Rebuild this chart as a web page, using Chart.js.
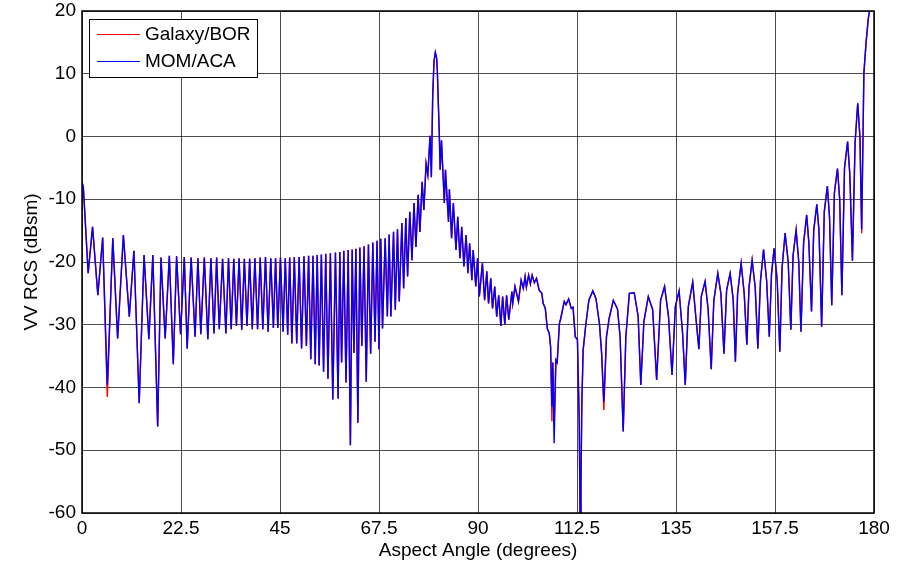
<!DOCTYPE html>
<html>
<head>
<meta charset="utf-8">
<script src="https://cdn.jsdelivr.net/npm/chart.js@4.4.1/dist/chart.umd.min.js"></script>
<style>
  html, body { margin: 0; padding: 0; background: #fff; }
  #wrap { width: 904px; height: 563px; }
</style>
</head>
<body>
<div id="wrap"><canvas id="rcsChart" width="904" height="563"></canvas></div>
<script>
// aspect angle (deg) of each read point
const angles = [
  0.0, 0.3, 0.7, 1.4, 2.4, 3.6, 4.7, 5.75, 7.0, 8.1, 9.4, 10.75, 11.8, 13.0, 14.1, 15.2, 16.1, 17.2, 17.95, 18.9,
  19.85, 20.75, 21.5, 22.4, 23.25, 23.9, 24.8, 25.7, 26.35, 27.0, 27.8, 28.6, 29.3, 30.0, 30.6, 31.2, 31.95, 32.7, 33.3, 33.9,
  34.5, 35.1, 35.7, 36.3, 36.9, 37.5, 38.1, 38.7, 39.3, 39.9, 40.5, 41.1, 41.7, 42.3, 42.9, 43.5, 44.0, 44.5, 45.1, 45.7,
  46.2, 46.75, 47.2, 47.7, 48.25, 48.8, 49.35, 49.9, 50.45, 51.0, 51.5, 52.0, 52.5, 53.0, 53.45, 53.9, 54.4, 54.9, 55.4, 55.9,
  56.45, 57.0, 57.6, 58.2, 58.6, 59.0, 59.5, 60.0, 60.5, 61.0, 61.4, 61.8, 62.25, 62.7, 63.15, 63.6, 64.1, 64.6, 65.1, 65.6,
  66.1, 66.6, 67.05, 67.5, 67.9, 68.3, 68.9, 69.4, 69.8, 70.2, 70.8, 71.2, 71.7, 72.1, 72.7, 73.1, 73.6, 74.0, 74.5, 75.0,
  75.45, 75.9, 76.4, 76.8, 77.3, 77.7, 78.2, 78.6, 79.1, 79.4, 79.7, 80.0, 80.3, 80.6, 80.75, 81.2, 81.4, 81.7, 82.35, 82.6,
  83.3, 83.5, 84.0, 84.4, 85.0, 85.4, 85.9, 86.3, 86.8, 87.3, 87.7, 88.1, 88.6, 88.9, 89.5, 89.9, 90.3, 91.0, 91.5, 92.0,
  92.4, 92.9, 93.3, 93.8, 94.25, 94.7, 95.2, 95.6, 96.1, 96.5, 97.0, 97.7, 97.9, 98.4, 99.2, 99.8, 100.3, 100.7, 101.0, 101.5,
  101.9, 102.3, 102.8, 103.3, 103.9, 104.5, 104.8, 105.0, 105.3, 105.75, 106.2, 106.5, 106.8, 107.0, 107.3, 107.7, 108.0, 108.5, 108.8, 109.6,
  110.0, 110.6, 111.2, 111.6, 112.1, 112.6, 113.0, 113.2, 113.4, 113.6, 113.9, 114.5, 115.2, 116.1, 116.8, 117.6, 118.1, 118.6, 119.2, 119.8,
  120.75, 121.7, 122.3, 123.0, 123.6, 124.4, 125.5, 126.1, 126.4, 127.0, 127.7, 128.7, 129.7, 130.6, 131.5, 132.4, 133.3, 134.1, 134.85, 135.7,
  136.5, 137.1, 137.8, 138.8, 139.5, 140.2, 140.75, 141.6, 142.3, 143.0, 143.6, 144.5, 145.2, 145.9, 146.5, 147.3, 148.0, 148.5, 149.0, 149.8,
  150.5, 151.1, 151.6, 152.3, 153.0, 153.6, 154.2, 154.9, 155.6, 156.2, 156.7, 157.3, 158.0, 158.6, 159.1, 159.8, 160.5, 161.1, 161.6, 162.3,
  162.9, 163.4, 164.0, 164.7, 165.2, 165.8, 166.3, 167.0, 167.5, 168.1, 168.7, 169.4, 169.9, 170.4, 171.0, 171.7, 172.2, 172.7, 173.3, 174.0,
  174.5, 175.1, 175.7, 176.3, 176.8, 177.2, 177.7, 178.2, 178.7, 179.1, 179.4
];

// MOM/ACA (blue), dBsm
const momAca = [
  -7.3, -8.0, -13.0, -21.8, -14.4, -25.3, -16.1, -39.6, -16.2, -32.2, -15.7, -28.7, -18.2, -42.5, -18.9, -32.3, -18.9, -46.2, -19.3, -32.2,
  -19.0, -36.3, -19.1, -31.5, -19.2, -33.8, -19.3, -31.9, -19.4, -31.5, -19.3, -32.3, -19.4, -31.4, -19.3, -30.7, -19.5, -31.4, -19.4, -30.7,
  -19.5, -30.2, -19.4, -30.8, -19.5, -30.2, -19.5, -30.7, -19.4, -30.7, -19.3, -30.7, -19.2, -31.1, -19.4, -30.5, -19.4, -30.5, -19.3, -31.1,
  -19.4, -31.6, -19.3, -33.0, -19.2, -33.0, -19.2, -33.8, -19.1, -33.4, -19.0, -35.5, -19.0, -36.3, -18.9, -36.5, -18.8, -37.5, -18.7, -38.6,
  -18.6, -41.9, -18.5, -41.8, -18.4, -36.0, -18.2, -39.2, -18.1, -49.2, -18.0, -34.5, -17.9, -45.6, -17.7, -33.4, -17.5, -39.1, -17.2, -34.6,
  -16.9, -32.7, -16.6, -33.9, -16.3, -30.6, -16.2, -28.7, -15.6, -28.7, -15.2, -27.6, -14.8, -26.3, -13.8, -24.2, -13.0, -22.3, -12.0, -19.7,
  -10.6, -17.6, -9.3, -15.2, -7.2, -11.7, -4.3, -6.1, 0.1, -6.5, 6.3, 12.0, 13.4, 12.5, 10.6, 0.5, -5.3, -0.6, -10.6, -5.3,
  -13.6, -8.4, -16.2, -10.6, -18.1, -12.8, -19.4, -14.4, -20.7, -15.7, -21.8, -17.0, -22.9, -18.1, -23.9, -19.4, -25.5, -20.2, -26.1, -21.5,
  -26.6, -22.6, -27.4, -23.9, -28.7, -25.3, -30.2, -25.5, -30.0, -25.3, -29.2, -24.7, -26.6, -23.9, -26.3, -22.9, -24.2, -22.3, -24.0, -22.1,
  -23.5, -22.1, -23.3, -22.6, -24.5, -25.0, -26.6, -26.9, -27.4, -30.6, -31.4, -33.5, -43.1, -36.0, -48.9, -35.6, -36.0, -29.8, -29.0, -26.3,
  -26.8, -25.9, -27.4, -27.2, -31.9, -32.4, -45.0, -61.0, -55.0, -42.5, -34.0, -30.0, -26.1, -24.6, -25.8, -29.8, -34.6, -42.3, -31.9, -29.0,
  -26.1, -27.5, -31.9, -47.0, -31.9, -25.0, -24.9, -27.4, -28.7, -39.6, -29.5, -25.5, -27.6, -38.8, -26.1, -23.9, -28.7, -38.0, -27.1, -24.6,
  -31.4, -39.6, -27.1, -23.2, -28.7, -33.9, -25.5, -23.1, -27.5, -37.1, -26.1, -21.8, -25.0, -34.6, -24.5, -21.8, -26.0, -35.9, -25.0, -20.2,
  -25.0, -33.2, -24.0, -19.7, -24.0, -33.8, -23.0, -18.0, -23.0, -31.9, -22.0, -17.8, -23.0, -34.3, -21.0, -15.4, -20.0, -30.8, -19.0, -14.9,
  -20.0, -31.1, -17.0, -12.5, -17.0, -27.9, -15.0, -10.8, -15.0, -30.3, -12.0, -7.9, -13.0, -26.9, -9.0, -5.1, -10.0, -25.3, -5.0, -0.8,
  -6.0, -19.8, -1.0, 5.3, 0.0, -14.8, 10.1, 15.0, 18.8, 20.5, 23.0
];

// Galaxy/BOR (red) follows MOM/ACA except at a few nulls where it dips further
const galaxyNulls = [
  [5.75, -41.5], [106.8, -45.4], [107.3, -46.0], [118.6, -43.6], [177.2, -15.4]
];
const galaxyBor = momAca.slice();
galaxyNulls.forEach(([a, v]) => {
  const i = angles.indexOf(a);
  if (i >= 0) galaxyBor[i] = v;
});

const xTicks = [0, 22.5, 45, 67.5, 90, 112.5, 135, 157.5, 180];
const yTicks = [-60, -50, -40, -30, -20, -10, 0, 10, 20];

const toPoints = (vals) => angles.map((a, i) => ({ x: a, y: vals[i] }));

const FONT = "'Liberation Sans', Arial, sans-serif";

// frame round the plot area + legend box in the top-left corner
const framePlugin = {
  id: "frame",
  afterDraw(chart) {
    const { ctx, chartArea: ca } = chart;
    ctx.save();
    ctx.strokeStyle = "#000";
    ctx.lineWidth = 1.5;
    ctx.strokeRect(ca.left, ca.top, ca.right - ca.left, ca.bottom - ca.top);

    // legend
    const lx = ca.left + 7, ly = ca.top + 8, lw = 168, lh = 58;
    ctx.fillStyle = "#fff";
    ctx.fillRect(lx, ly, lw, lh);
    ctx.lineWidth = 1;
    ctx.strokeRect(lx + 0.5, ly + 0.5, lw, lh);
    const items = [
      ["Galaxy/BOR", "#ff0000", ly + 15],
      ["MOM/ACA", "#0000ff", ly + 42],
    ];
    ctx.font = "19px " + FONT;
    ctx.textBaseline = "middle";
    items.forEach(([label, color, y]) => {
      ctx.strokeStyle = color;
      ctx.beginPath();
      ctx.moveTo(lx + 8, y + 0.5);
      ctx.lineTo(lx + 51, y + 0.5);
      ctx.stroke();
      ctx.fillStyle = "#000";
      ctx.fillText(label, lx + 56, y + 1);
    });
    ctx.restore();
  },
};

new Chart(document.getElementById("rcsChart"), {
  type: "line",
  data: {
    datasets: [
      {
        label: "MOM/ACA",
        data: toPoints(momAca),
        borderColor: "#0000ff",
        borderWidth: 1.4,
        pointRadius: 0,
        tension: 0,
        order: 0,
      },
      {
        label: "Galaxy/BOR",
        data: toPoints(galaxyBor),
        borderColor: "#ff0000",
        borderWidth: 1.4,
        pointRadius: 0,
        tension: 0,
        order: 1,
      },
    ],
  },
  options: {
    responsive: false,
    animation: false,
    events: [],
    layout: { padding: { top: 11, right: 30, left: 0, bottom: 0 } },
    plugins: { legend: { display: false }, tooltip: { enabled: false } },
    scales: {
      x: {
        type: "linear",
        min: 0,
        max: 180,
        afterBuildTicks: (s) => { s.ticks = xTicks.map((v) => ({ value: v })); },
        afterFit: (s) => { s.height = 50; s.paddingLeft = 0; s.paddingRight = 0; },
        grid: { color: "rgba(0,0,0,0.7)", lineWidth: 1, drawTicks: false },
        border: { display: false },
        ticks: { color: "#000", font: { family: FONT, size: 19 }, padding: 4, maxRotation: 0 },
        title: {
          display: true,
          text: "Aspect Angle (degrees)",
          color: "#000",
          font: { family: FONT, size: 19 },
          padding: { top: 0, bottom: 1 },
        },
      },
      y: {
        min: -60,
        max: 20,
        afterBuildTicks: (s) => { s.ticks = yTicks.map((v) => ({ value: v })); },
        afterFit: (s) => { s.width = 82; s.paddingTop = 0; s.paddingBottom = 0; },
        grid: { color: "rgba(0,0,0,0.7)", lineWidth: 1, drawTicks: false },
        border: { display: false },
        ticks: { color: "#000", font: { family: FONT, size: 19 }, padding: 6 },
        title: {
          display: true,
          text: "VV RCS (dBsm)",
          color: "#000",
          font: { family: FONT, size: 19 },
          padding: { top: 20, bottom: 0 },
        },
      },
    },
  },
  plugins: [framePlugin],
});
</script>
</body>
</html>
